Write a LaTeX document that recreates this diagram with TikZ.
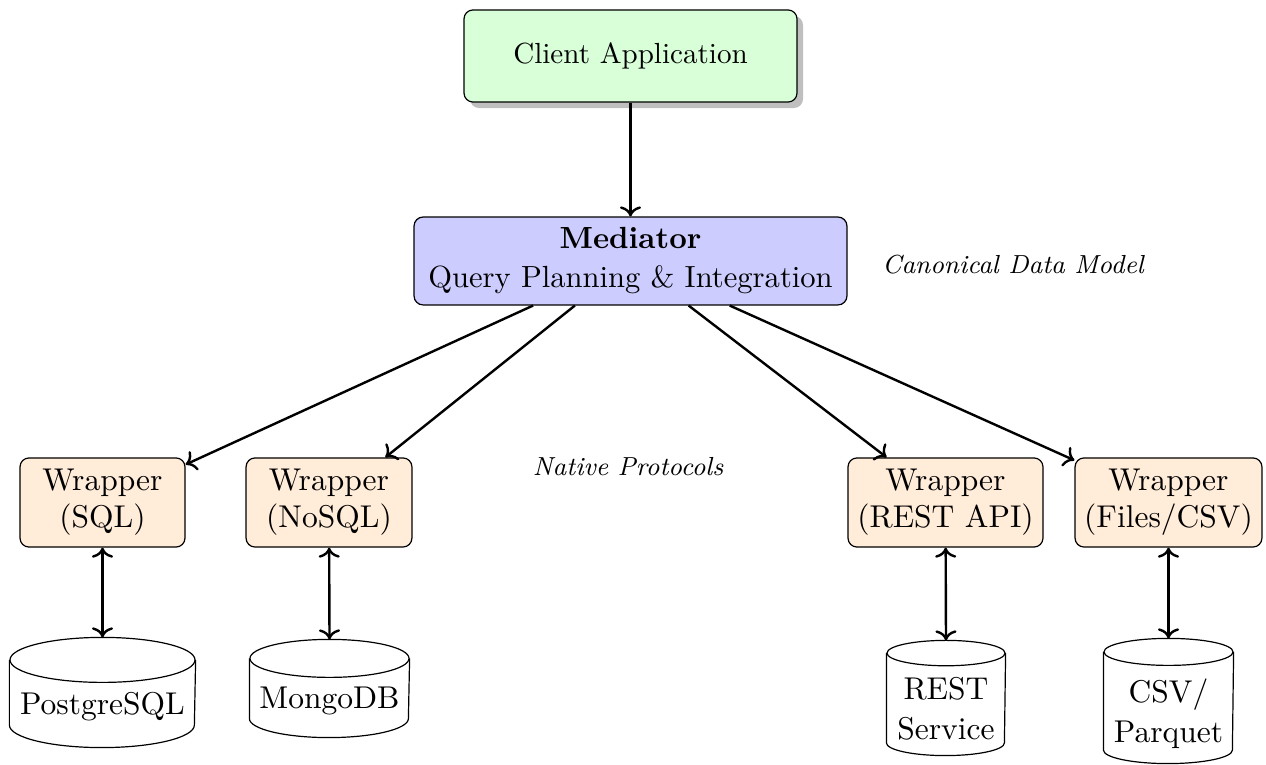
\documentclass[tikz,border=0pt]{standalone}
\usetikzlibrary{shadows,arrows.meta}
\tikzset{
  box/.style={draw, rounded corners=3pt, align=center, inner sep=2pt},
  clientbox/.style={box, fill=green!15, minimum width=111pt, minimum height=30.7pt,
    font=\fontsize{9.7}{11.6}\selectfont,
    drop shadow={shadow xshift=2pt, shadow yshift=-2pt, fill=black!25, opacity=1}},
  medbox/.style={box, fill=blue!20, minimum width=144.3pt, minimum height=29.3pt,
    font=\fontsize{10.2}{13}\selectfont},
  wrapbox/.style={box, fill=orange!15, minimum height=29.7pt,
    font=\fontsize{10.5}{12.4}\selectfont},
  dbbox/.style={rectangle, inner sep=0pt},
  dblabel/.style={align=center, inner sep=0pt, font=\fontsize{10.5}{13.3}\selectfont},
  link/.style={thick, ->},
  duplex/.style={thick, <->},
  note/.style={font=\fontsize{8.7}{10.4}\selectfont\itshape},
}
% cylinder outline around a database node: #1 node, #2 half width, #3 lid half height
\newcommand\dbshape[3]{%
  \draw ([yshift=-#3]#1.north west) -- ([yshift=#3]#1.south west)
        arc[start angle=180, end angle=360, x radius=#2, y radius=#3]
        -- ([yshift=-#3]#1.north east);
  \draw ([yshift=-#3]#1.north) ellipse[x radius=#2, y radius=#3];
}
\begin{document}
\begin{tikzpicture}[x=0.333333pt, y=-0.333333pt]
  \useasboundingbox (0,0) rectangle (1266,765);

  % client and mediator
  \node[clientbox] (client) at (630.5,56) {Client Application};
  \node[medbox] (med) at (630.5,261) {\textbf{Mediator}\\Query Planning \& Integration};

  % wrappers
  \node[wrapbox, minimum width=55pt] (wsql) at (102.5,502.5) {Wrapper\\(SQL)};
  \node[wrapbox, minimum width=55.3pt] (wnosql) at (329,502.5) {Wrapper\\(NoSQL)};
  \node[wrapbox, minimum width=65pt] (wrest) at (945.5,502.5) {Wrapper\\(REST API)};
  \node[wrapbox, minimum width=62.3pt] (wfile) at (1168.5,502.5) {Wrapper\\(Files/CSV)};

  % data sources
  \node[dbbox, minimum width=61.67pt, minimum height=36.33pt] (pg) at (102.5,692.5) {};
  \node[dbbox, minimum width=53pt, minimum height=32.33pt] (mongo) at (329.5,688.5) {};
  \node[dbbox, minimum width=39.33pt, minimum height=38pt] (rest) at (946,698) {};
  \node[dbbox, minimum width=43pt, minimum height=41.33pt] (csv) at (1168.5,701) {};
  \dbshape{pg}{30.83pt}{7.5pt}
  \dbshape{mongo}{26.5pt}{6.33pt}
  \dbshape{rest}{19.67pt}{4.23pt}
  \dbshape{csv}{21.5pt}{4.5pt}
  \node[dblabel] (pgtext) at (102.5,707) {PostgreSQL};
  \node[dblabel] (mongotext) at (329.5,701) {MongoDB};
  \node[dblabel] (resttext) at (946,709) {REST\\Service};
  \node[dblabel] (csvtext) at (1168.5,714) {CSV/\\Parquet};

  % annotations
  \node[note] (cdm) at (1013,265) {Canonical Data Model};
  \node[note] (np) at (628,467) {Native Protocols};

  % connectors
  \draw[link] (client) -- (med);
  \draw[link] (med) -- (wsql);
  \draw[link] (med) -- (wnosql);
  \draw[link] (med) -- (wrest);
  \draw[link] (med) -- (wfile);
  \draw[duplex] (wsql) -- (pg.north);
  \draw[duplex] (wnosql) -- (mongo.north);
  \draw[duplex] (wrest) -- (rest.north);
  \draw[duplex] (wfile) -- (csv.north);
\end{tikzpicture}
\end{document}
